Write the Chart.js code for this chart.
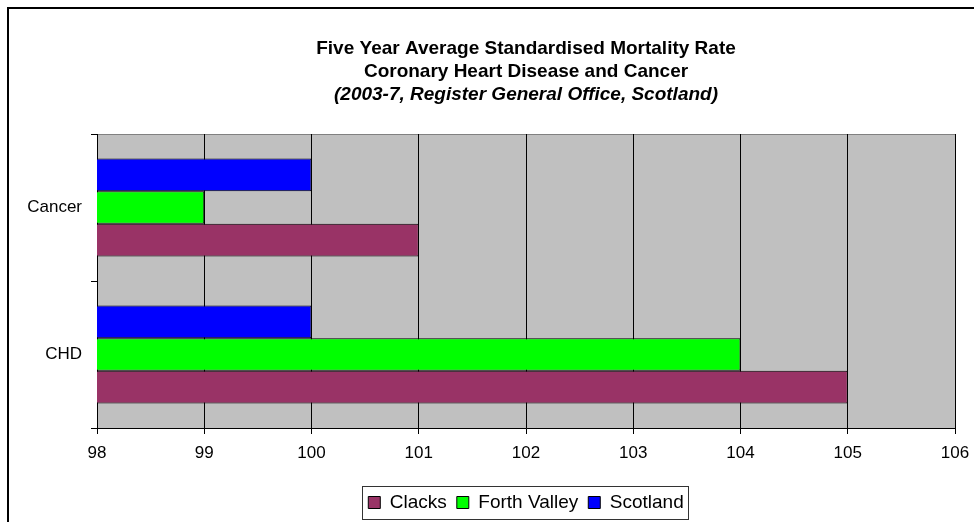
<!DOCTYPE html>
<html>
<head>
<meta charset="utf-8">
<script src="https://cdn.jsdelivr.net/npm/chart.js@4/dist/chart.umd.min.js"></script>
<style>
  body { margin: 0; background: #fff; }
  canvas { display: block; }
</style>
</head>
<body>
<canvas id="grafica" width="974" height="522"></canvas>
<script>
const categorias = ["Cancer", "CHD"];
const clacks = [101, 105];
const forthValley = [99, 104];
const scotland = [100, 100];
const ejeMin = 98;
const ejeMax = 106;

Chart.defaults.font.family = 'Arial, "Liberation Sans", sans-serif';
Chart.defaults.color = "#000";

// fondo gris del area de trazado y marcos
const marcos = {
  id: "marcos",
  beforeDraw(chart) {
    const ctx = chart.ctx;
    const a = chart.chartArea;
    ctx.save();
    ctx.fillStyle = "#fff";
    ctx.fillRect(0, 0, chart.width, chart.height);
    ctx.fillStyle = "#C0C0C0";
    ctx.fillRect(a.left, a.top, a.right - a.left, a.bottom - a.top);
    ctx.strokeStyle = "#808080";
    ctx.lineWidth = 1;
    ctx.strokeRect(a.left + 0.5, a.top + 0.5, a.right - a.left, a.bottom - a.top);
    ctx.strokeStyle = "#000";
    ctx.lineWidth = 2;
    ctx.strokeRect(8, 8, 1000, 1000);
    ctx.restore();
  },
  afterDraw(chart) {
    const cajas = chart.legend.legendHitBoxes;
    if (!cajas || !cajas.length) return;
    const izq = Math.min(...cajas.map(c => c.left));
    const der = Math.max(...cajas.map(c => c.left + c.width));
    const arriba = Math.min(...cajas.map(c => c.top));
    const abajo = Math.max(...cajas.map(c => c.top + c.height));
    const ctx = chart.ctx;
    ctx.save();
    ctx.strokeStyle = "#333";
    ctx.lineWidth = 1;
    ctx.strokeRect(Math.round(izq - 6) + 0.5, Math.round(arriba - 7) + 0.5,
      Math.round(der - izq + 11), Math.round(abajo - arriba + 14));
    ctx.restore();
  },
};

new Chart(document.querySelector("#grafica"), {
  type: "bar",
  data: {
    labels: categorias,
    datasets: [
      { label: "Scotland", data: scotland, backgroundColor: "#0000FF" },
      { label: "Forth Valley", data: forthValley, backgroundColor: "#00FF00" },
      { label: "Clacks", data: clacks, backgroundColor: "#993366" },
    ],
  },
  options: {
    indexAxis: "y",
    responsive: false,
    animation: false,
    datasets: {
      bar: {
        borderColor: "#000",
        borderWidth: 1,
        categoryPercentage: 0.665,
        barPercentage: 1,
      },
    },
    layout: { padding: { left: 0, right: 19, top: 0, bottom: 0 } },
    scales: {
      x: {
        min: ejeMin,
        max: ejeMax,
        ticks: { stepSize: 1, font: { size: 17 }, padding: 9, color: "#000" },
        grid: { color: "#000", tickLength: 6, lineWidth: 1 },
        border: { color: "#000" },
        afterFit(scale) {
          scale.height = 55;
          scale.paddingRight = 0;
          scale.paddingLeft = 0;
        },
      },
      y: {
        ticks: { font: { size: 17 }, padding: 9, color: "#000" },
        grid: { drawOnChartArea: false, color: "#000", tickLength: 6 },
        border: { color: "#000" },
        afterFit(scale) { scale.width = 97; },
      },
    },
    plugins: {
      title: {
        display: true,
        fullSize: false,
        text: ["Five Year Average Standardised Mortality Rate", "Coronary Heart Disease and Cancer"],
        color: "#000",
        font: { size: 19, weight: "bold", lineHeight: 23 / 19 },
        padding: { top: 37, bottom: 0 },
      },
      subtitle: {
        display: true,
        fullSize: false,
        text: "(2003-7, Register General Office, Scotland)",
        color: "#000",
        font: { size: 19, weight: "bold", style: "italic", lineHeight: 23 / 19 },
        padding: { top: 0, bottom: 28 },
      },
      legend: {
        position: "bottom",
        fullSize: false,
        reverse: true,
        labels: {
          boxWidth: 12,
          boxHeight: 12,
          padding: 10,
          color: "#000",
          font: { size: 19 },
        },
      },
      tooltip: { enabled: false },
    },
  },
  plugins: [marcos],
});
</script>
</body>
</html>
